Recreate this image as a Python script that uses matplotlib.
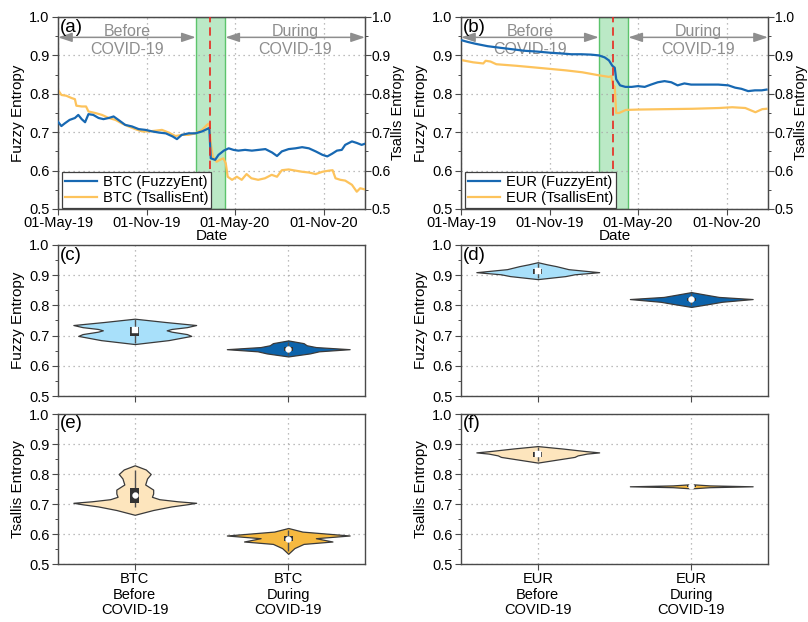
import numpy as np
import pandas as pd
import matplotlib
matplotlib.use("Agg")
import matplotlib.pyplot as plt
import matplotlib.dates as mdates
from matplotlib.patches import Rectangle
from matplotlib.ticker import MultipleLocator

plt.rcParams['font.family'] = ['Liberation Sans', 'DejaVu Sans']
plt.rcParams['font.size'] = 10

# ---------------------------------------------------------------- time series
btc_fuzzy_dates = ["2019-05-01", "2019-05-08", "2019-05-15", "2019-05-25", "2019-06-05",
                   "2019-06-12", "2019-06-19", "2019-06-26", "2019-07-03", "2019-07-13",
                   "2019-07-24", "2019-08-03", "2019-08-14", "2019-08-24", "2019-09-03",
                   "2019-09-17", "2019-10-01", "2019-10-15", "2019-10-29", "2019-11-12",
                   "2019-11-26", "2019-12-10", "2019-12-24", "2020-01-02", "2020-01-12",
                   "2020-01-26", "2020-02-09", "2020-02-23", "2020-03-04", "2020-03-09",
                   "2020-03-12", "2020-03-21", "2020-03-28", "2020-04-08", "2020-04-18",
                   "2020-04-28", "2020-05-08", "2020-05-22", "2020-06-05", "2020-06-19",
                   "2020-07-03", "2020-07-17", "2020-07-27", "2020-08-06", "2020-08-20",
                   "2020-09-03", "2020-09-17", "2020-10-01", "2020-10-15", "2020-10-29",
                   "2020-11-08", "2020-11-18", "2020-11-28", "2020-12-08", "2020-12-15",
                   "2020-12-29", "2021-01-08", "2021-01-18", "2021-01-25"]
btc_fuzzy = [0.727, 0.716, 0.723, 0.732, 0.737, 0.745, 0.734, 0.726, 0.747, 0.745,
             0.737, 0.734, 0.737, 0.741, 0.732, 0.719, 0.715, 0.708, 0.706, 0.702,
             0.699, 0.697, 0.689, 0.682, 0.693, 0.697, 0.697, 0.702, 0.708, 0.711,
             0.632, 0.628, 0.641, 0.652, 0.658, 0.654, 0.652, 0.654, 0.652, 0.654,
             0.656, 0.647, 0.638, 0.650, 0.656, 0.658, 0.661, 0.658, 0.650, 0.641,
             0.637, 0.644, 0.652, 0.654, 0.667, 0.676, 0.672, 0.667, 0.670]

btc_tsallis_dates = ["2019-05-01", "2019-05-08", "2019-05-18", "2019-05-29", "2019-06-05",
                     "2019-06-08", "2019-06-19", "2019-06-28", "2019-07-03", "2019-07-17",
                     "2019-07-31", "2019-08-14", "2019-08-28", "2019-09-10", "2019-09-24",
                     "2019-10-08", "2019-10-22", "2019-11-05", "2019-11-19", "2019-12-02",
                     "2019-12-16", "2019-12-30", "2020-01-12", "2020-01-26", "2020-02-09",
                     "2020-02-23", "2020-03-04", "2020-03-09", "2020-03-12", "2020-03-16",
                     "2020-03-24", "2020-03-31", "2020-04-07", "2020-04-12", "2020-04-16",
                     "2020-04-25", "2020-05-05", "2020-05-15", "2020-05-25", "2020-06-04",
                     "2020-06-18", "2020-07-02", "2020-07-16", "2020-07-27", "2020-08-06",
                     "2020-08-20", "2020-09-03", "2020-09-17", "2020-10-01", "2020-10-15",
                     "2020-10-29", "2020-11-12", "2020-11-19", "2020-11-25", "2020-12-05",
                     "2020-12-15", "2020-12-29", "2021-01-08", "2021-01-15", "2021-01-25"]
btc_tsallis = [0.810, 0.797, 0.795, 0.789, 0.786, 0.769, 0.767, 0.767, 0.754, 0.750,
               0.745, 0.737, 0.732, 0.723, 0.715, 0.708, 0.702, 0.702, 0.704, 0.706,
               0.699, 0.690, 0.693, 0.693, 0.697, 0.706, 0.719, 0.723, 0.671, 0.637,
               0.623, 0.628, 0.632, 0.619, 0.584, 0.576, 0.584, 0.576, 0.591, 0.580,
               0.576, 0.580, 0.589, 0.584, 0.601, 0.603, 0.600, 0.597, 0.595, 0.591,
               0.597, 0.600, 0.601, 0.580, 0.576, 0.574, 0.563, 0.545, 0.554, 0.551]

eur_fuzzy_dates = ["2019-05-01", "2019-05-15", "2019-06-01", "2019-06-25", "2019-07-20",
                   "2019-08-15", "2019-09-10", "2019-10-05", "2019-11-01", "2019-11-25",
                   "2019-12-15", "2020-01-05", "2020-01-25", "2020-02-10", "2020-02-22",
                   "2020-03-02", "2020-03-09", "2020-03-14", "2020-03-17", "2020-03-25",
                   "2020-04-05", "2020-04-18", "2020-05-01", "2020-05-15", "2020-05-28",
                   "2020-06-11", "2020-06-25", "2020-07-09", "2020-07-22", "2020-08-05",
                   "2020-08-19", "2020-09-16", "2020-10-14", "2020-11-04", "2020-11-18",
                   "2020-12-01", "2020-12-15", "2020-12-29", "2021-01-12", "2021-01-22"]
eur_fuzzy = [0.940, 0.935, 0.930, 0.924, 0.920, 0.916, 0.912, 0.910, 0.907, 0.905,
             0.903, 0.903, 0.902, 0.900, 0.895, 0.887, 0.873, 0.868, 0.838, 0.822,
             0.818, 0.818, 0.820, 0.818, 0.824, 0.830, 0.833, 0.830, 0.822, 0.827,
             0.824, 0.824, 0.824, 0.822, 0.816, 0.813, 0.807, 0.809, 0.809, 0.811]

eur_tsallis_dates = ["2019-05-01", "2019-05-26", "2019-06-16", "2019-06-21", "2019-07-01",
                     "2019-07-13", "2019-08-23", "2019-09-27", "2019-10-31", "2019-12-04",
                     "2020-01-07", "2020-02-11", "2020-03-02", "2020-03-07", "2020-03-10",
                     "2020-03-14", "2020-03-17", "2020-03-23", "2020-04-06", "2020-05-03",
                     "2020-06-27", "2020-08-22", "2020-10-16", "2020-11-12", "2020-12-09",
                     "2020-12-30", "2021-01-13", "2021-01-22"]
eur_tsallis = [0.888, 0.882, 0.879, 0.886, 0.884, 0.877, 0.873, 0.869, 0.865, 0.861,
               0.856, 0.848, 0.844, 0.846, 0.824, 0.818, 0.750, 0.750, 0.758, 0.759,
               0.760, 0.761, 0.763, 0.765, 0.763, 0.752, 0.760, 0.761]

date_ticks = ["2019-05-01", "2019-11-01", "2020-05-01", "2020-11-01"]
date_range = ["2019-05-01", "2021-01-25"]
transition_window = ["2020-02-10", "2020-04-11"]
pandemic_declared = "2020-03-11"

# ---------------------------------------------------------------- violins
# density outlines: entropy level and relative half-width
btc_fuzzy_before_lv = [0.672, 0.685, 0.699, 0.705, 0.713, 0.7175, 0.722, 0.728, 0.735, 0.745, 0.756]
btc_fuzzy_before_w = [0.0, 0.55, 0.92, 0.85, 0.60, 0.52, 0.60, 0.85, 1.0, 0.50, 0.0]
btc_fuzzy_during_lv = [0.631, 0.641, 0.648, 0.655, 0.662, 0.668, 0.675, 0.684]
btc_fuzzy_during_w = [0.0, 0.35, 0.50, 1.0, 0.45, 0.30, 0.25, 0.0]
eur_fuzzy_before_lv = [0.887, 0.897, 0.903, 0.910, 0.916, 0.920, 0.925, 0.930, 0.936, 0.943]
eur_fuzzy_before_w = [0.0, 0.45, 0.60, 1.0, 0.70, 0.50, 0.40, 0.30, 0.15, 0.0]
eur_fuzzy_during_lv = [0.795, 0.805, 0.812, 0.821, 0.828, 0.835, 0.844]
eur_fuzzy_during_w = [0.0, 0.30, 0.50, 1.0, 0.45, 0.25, 0.0]
btc_tsallis_before_lv = [0.664, 0.680, 0.692, 0.699, 0.704, 0.709, 0.716, 0.724, 0.735,
                         0.748, 0.765, 0.785, 0.800, 0.815, 0.829]
btc_tsallis_before_w = [0.0, 0.30, 0.60, 0.85, 1.0, 0.70, 0.40, 0.28, 0.30,
                        0.30, 0.17, 0.20, 0.26, 0.18, 0.0]
btc_tsallis_during_lv = [0.534, 0.553, 0.567, 0.575, 0.586, 0.595, 0.608, 0.620]
btc_tsallis_during_w = [0.0, 0.10, 0.25, 0.72, 0.45, 1.0, 0.23, 0.0]
eur_tsallis_before_lv = [0.838, 0.857, 0.862, 0.868, 0.872, 0.877, 0.885, 0.893]
eur_tsallis_before_w = [0.0, 0.60, 0.65, 0.80, 1.0, 0.75, 0.40, 0.0]
eur_tsallis_during_lv = [0.752, 0.756, 0.759, 0.762, 0.766]
eur_tsallis_during_w = [0.0, 0.30, 1.0, 0.30, 0.0]

# whisker low, q1, median, q3, whisker high
btc_fuzzy_before_box = [0.675, 0.700, 0.717, 0.730, 0.755]
btc_fuzzy_during_box = [0.635, 0.648, 0.655, 0.662, 0.680]
eur_fuzzy_before_box = [0.890, 0.905, 0.913, 0.922, 0.940]
eur_fuzzy_during_box = [0.800, 0.815, 0.820, 0.826, 0.840]
btc_tsallis_before_box = [0.690, 0.702, 0.729, 0.754, 0.815]
btc_tsallis_during_box = [0.545, 0.578, 0.585, 0.595, 0.615]
eur_tsallis_before_box = [0.845, 0.857, 0.866, 0.875, 0.890]
eur_tsallis_during_box = [0.754, 0.757, 0.760, 0.762, 0.765]

btc_categories = ["BTC\nBefore\nCOVID-19", "BTC\nDuring\nCOVID-19"]
eur_categories = ["EUR\nBefore\nCOVID-19", "EUR\nDuring\nCOVID-19"]

# ---------------------------------------------------------------- styling
BLUE = "#1768b2"
ORANGE = "#fdc35c"
SPINE = "#4a4a4a"
GRID = "#a8a8a8"
ARROW_GRAY = "#8e8e8e"
FUZZY_BEFORE = "#a8e0fa"
FUZZY_DURING = "#0c63ab"
TSALLIS_BEFORE = "#fde5bd"
TSALLIS_DURING = "#f6b940"
EDGE = "#3a3a3a"

W, H = 808, 622
fig = plt.figure(figsize=(W / 100, H / 100), dpi=100)


def rect(l, t, r, b):
    return [l / W, 1 - b / H, (r - l) / W, (b - t) / H]


def style_y(ax, pad=2, size=10.5):
    ax.set_ylim(0.5, 1.0)
    ax.yaxis.set_major_locator(MultipleLocator(0.1))
    ax.yaxis.set_minor_locator(MultipleLocator(0.05))
    ax.yaxis.set_major_formatter(plt.FuncFormatter(lambda v, p: f"{v:.1f}"))
    ax.tick_params(axis="y", which="major", direction="out", length=4, width=0.8,
                   color=SPINE, labelsize=size, pad=pad)
    ax.tick_params(axis="y", which="minor", direction="out", length=2, width=0.7,
                   color=SPINE)


def style_frame(ax):
    for s in ax.spines.values():
        s.set_color(SPINE)
        s.set_linewidth(1.0)
    ax.set_axisbelow(True)
    ax.grid(True, which="major", color=GRID, linestyle=(0, (1, 3)), linewidth=0.9)


def panel_label(ax, txt):
    ax.text(0.006, 0.99, txt, transform=ax.transAxes, ha="left", va="top",
            fontsize=13.5, zorder=10)


def time_panel(pos, fz_dates, fz, ts_dates, ts, names, label):
    ax = fig.add_axes(rect(*pos))
    style_frame(ax)
    style_y(ax)
    ax.set_ylabel("Fuzzy Entropy", fontsize=11, labelpad=3)
    x0, x1 = pd.to_datetime(date_range)
    ax.set_xlim(x0, x1)
    ax.set_xticks(pd.to_datetime(date_ticks))
    ax.xaxis.set_major_formatter(mdates.DateFormatter("%d-%b-%y"))
    ax.tick_params(axis="x", direction="out", length=4, width=0.8, color=SPINE,
                   labelsize=10.5, pad=1)
    ax.set_xlabel("Date", fontsize=11, labelpad=-1)

    b0, b1 = pd.to_datetime(transition_window)
    ax.axvspan(b0, b1, facecolor="#bbe9c6", edgecolor="#5cc46c", linewidth=1.0, zorder=0)

    ax2 = ax.twinx()
    style_y(ax2, pad=1, size=10)
    ax2.tick_params(axis="y", which="both", right=True, left=False)
    ax2.set_ylabel("Tsallis Entropy", fontsize=10.5)
    ax2.yaxis.set_label_coords(1.086, 0.5)
    for s in ax2.spines.values():
        s.set_color(SPINE)

    l1, = ax2.plot(pd.to_datetime(fz_dates), fz, color=BLUE, lw=1.6, label=names[0],
                   zorder=3)
    l2, = ax2.plot(pd.to_datetime(ts_dates), ts, color=ORANGE, lw=1.6, label=names[1],
                   zorder=2)
    ax2.axvline(pd.to_datetime(pandemic_declared), color="#e8281f", lw=1.2,
                dashes=(5, 3), zorder=4)

    arrow_y = 0.947
    style = "<|-|>,head_length=0.6,head_width=0.2"
    for a, b, txt in [(x0, b0, "Before\nCOVID-19"), (b1, x1, "During\nCOVID-19")]:
        ax2.annotate("", xy=(b, arrow_y), xytext=(a, arrow_y),
                     arrowprops=dict(arrowstyle=style, color=ARROW_GRAY, lw=1.1,
                                     mutation_scale=14, shrinkA=0, shrinkB=0),
                     zorder=1)
        mid = a + (b - a) / 2
        ax2.text(mid, 0.939, txt, ha="center", va="center", color=ARROW_GRAY,
                 fontsize=11.5, linespacing=1.2, zorder=1)

    leg = ax2.legend(handles=[l1, l2], loc="lower left", bbox_to_anchor=(0.008, 0.0),
                     fontsize=10.5, frameon=True, fancybox=False, edgecolor="#404040",
                     framealpha=1, borderpad=0.2, labelspacing=0.12,
                     handlelength=2.2, handletextpad=0.4, borderaxespad=0.1)
    leg.get_frame().set_linewidth(0.9)
    panel_label(ax2, label)
    return ax


def violin_panel(pos, violins, ylabel, label, ticklabels=None):
    ax = fig.add_axes(rect(*pos))
    style_frame(ax)
    style_y(ax)
    ax.set_ylabel(ylabel, fontsize=11, labelpad=3)
    ax.set_xlim(0.5, 2.5)
    ax.set_xticks([1, 2])
    ax.tick_params(axis="x", direction="out", length=4, width=0.8, color=SPINE,
                   labelsize=10.5, pad=2)
    if ticklabels is None:
        ax.set_xticklabels(["", ""])
    else:
        ax.set_xticklabels(ticklabels, linespacing=1.12)
    for c, (lv, w, box, color, marker) in zip([1, 2], violins):
        lv = np.asarray(lv)
        w = 0.4 * np.asarray(w)
        ax.fill_betweenx(lv, c - w, c + w, facecolor=color, edgecolor=EDGE,
                         linewidth=0.9, zorder=2)
        lo, q1, med, q3, hi = box
        ax.vlines(c, lo, hi, color="#505050", lw=1.0, zorder=3)
        ax.add_patch(Rectangle((c - 0.03, q1), 0.06, q3 - q1, facecolor="#333333",
                               edgecolor="none", zorder=4))
        ax.plot([c], [med], marker=marker, ms=4.2, mfc="white", mec="white", mew=0.3,
                zorder=5)
    panel_label(ax, label)
    return ax


time_panel((58, 17, 365, 209), btc_fuzzy_dates, btc_fuzzy, btc_tsallis_dates,
           btc_tsallis, ["BTC (FuzzyEnt)", "BTC (TsallisEnt)"], "(a)")
time_panel((461, 17, 768, 209), eur_fuzzy_dates, eur_fuzzy, eur_tsallis_dates,
           eur_tsallis, ["EUR (FuzzyEnt)", "EUR (TsallisEnt)"], "(b)")

violin_panel((58, 245, 365, 396),
             [(btc_fuzzy_before_lv, btc_fuzzy_before_w, btc_fuzzy_before_box, FUZZY_BEFORE, "s"),
              (btc_fuzzy_during_lv, btc_fuzzy_during_w, btc_fuzzy_during_box, FUZZY_DURING, "o")],
             "Fuzzy Entropy", "(c)")
violin_panel((461, 245, 768, 396),
             [(eur_fuzzy_before_lv, eur_fuzzy_before_w, eur_fuzzy_before_box, FUZZY_BEFORE, "s"),
              (eur_fuzzy_during_lv, eur_fuzzy_during_w, eur_fuzzy_during_box, FUZZY_DURING, "o")],
             "Fuzzy Entropy", "(d)")
violin_panel((58, 414, 365, 564),
             [(btc_tsallis_before_lv, btc_tsallis_before_w, btc_tsallis_before_box, TSALLIS_BEFORE, "o"),
              (btc_tsallis_during_lv, btc_tsallis_during_w, btc_tsallis_during_box, TSALLIS_DURING, "o")],
             "Tsallis Entropy", "(e)", btc_categories)
violin_panel((461, 414, 768, 564),
             [(eur_tsallis_before_lv, eur_tsallis_before_w, eur_tsallis_before_box, TSALLIS_BEFORE, "s"),
              (eur_tsallis_during_lv, eur_tsallis_during_w, eur_tsallis_during_box, TSALLIS_DURING, "o")],
             "Tsallis Entropy", "(f)", eur_categories)

fig.savefig("out.png", dpi=100, facecolor="white")
